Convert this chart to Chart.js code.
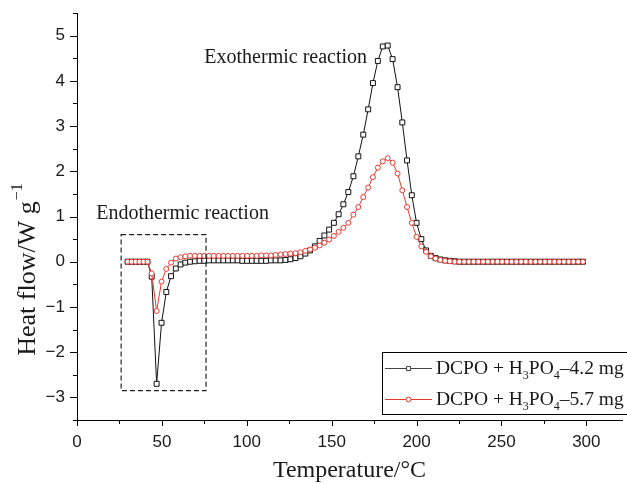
<!DOCTYPE html>
<html><head><meta charset="utf-8">
<script src="https://cdn.jsdelivr.net/npm/chart.js@4"></script>
<style>html,body{margin:0;padding:0;background:#fff}#wrap{width:627px;height:484px;position:relative}</style>
</head><body><div id="wrap"><canvas id="c" width="627" height="484"></canvas></div>
<script>
const temperatures = [29.8, 32.2, 34.5, 36.8, 39.2, 41.5, 44.0, 46.9, 49.8, 52.6,
 55.4, 58.2, 61.0, 63.8, 66.6, 69.4, 72.2, 75.0, 77.8, 80.6,
 83.4, 86.2, 89.0, 91.8, 94.6, 97.4, 100.2, 103.0, 105.8, 108.6,
 111.4, 114.2, 117.0, 119.9, 122.8, 125.7, 128.7, 131.6, 134.5, 137.3,
 140.1, 142.9, 145.7, 148.5, 151.3, 154.1, 156.9, 159.8, 162.8, 165.7,
 168.6, 171.5, 174.3, 177.2, 180.1, 183.0, 185.9, 188.8, 191.6, 194.4,
 197.2, 200.0, 202.8, 205.6, 208.4, 211.2, 214.0, 216.8, 219.6, 222.4,
 225.2, 228.0, 230.8, 233.6, 236.4, 239.2, 242.0, 244.8, 247.6, 250.4,
 253.2, 256.0, 258.8, 261.6, 264.4, 267.2, 270.0, 272.8, 275.6, 278.4,
 281.2, 284.0, 286.8, 289.6, 292.4, 295.2, 298.0];
const heatFlow42 = [0, 0, 0, 0, 0, 0, -0.33, -2.70, -1.35, -0.67,
 -0.32, -0.15, -0.06, -0.02, 0.00, 0.01, 0.02, 0.02, 0.03, 0.03,
 0.03, 0.03, 0.03, 0.03, 0.03, 0.02, 0.02, 0.02, 0.02, 0.02,
 0.02, 0.03, 0.03, 0.03, 0.04, 0.055, 0.08, 0.12, 0.18, 0.25,
 0.34, 0.46, 0.58, 0.71, 0.86, 1.05, 1.27, 1.54, 1.89, 2.33,
 2.81, 3.37, 3.95, 4.44, 4.76, 4.78, 4.48, 3.86, 3.08, 2.24,
 1.47, 0.86, 0.50, 0.25, 0.13, 0.08, 0.05, 0.03, 0.02, 0.01,
 0, 0, 0, 0, 0, 0, 0, 0, 0, 0,
 0, 0, 0, 0, 0, 0, 0, 0, 0, 0,
 0, 0, 0, 0, 0, 0, 0];
const heatFlow57 = [0, 0, 0, 0, 0, 0, -0.26, -1.09, -0.44, -0.16,
 -0.02, 0.07, 0.10, 0.12, 0.13, 0.13, 0.13, 0.13, 0.13, 0.13,
 0.13, 0.13, 0.13, 0.13, 0.13, 0.13, 0.13, 0.13, 0.13, 0.14,
 0.14, 0.14, 0.15, 0.16, 0.17, 0.18, 0.19, 0.21, 0.24, 0.27,
 0.31, 0.36, 0.42, 0.49, 0.57, 0.66, 0.75, 0.86, 1.04, 1.21,
 1.43, 1.64, 1.87, 2.08, 2.22, 2.29, 2.19, 1.95, 1.58, 1.21,
 0.86, 0.55, 0.34, 0.22, 0.12, 0.07, 0.04, 0.02, 0.01, 0,
 0, 0, 0, 0, 0, 0, 0, 0, 0, 0,
 0, 0, 0, 0, 0, 0, 0, 0, 0, 0,
 0, 0, 0, 0, 0, 0, 0];
const seriesMass = ['4.2 mg', '5.7 mg'];
const xTicks = [0, 50, 100, 150, 200, 250, 300];
const yTicks = [-3, -2, -1, 0, 1, 2, 3, 4, 5];
const xRange = [0, 321];
const yRange = [-3.5, 5.5];
const endoBox = [26, 76, -2.85, 0.6];   // x1, x2, y1, y2 in data units
const annotations = [
  {text: 'Exothermic reaction', x: 75, y: 4.5},
  {text: 'Endothermic reaction', x: 11.3, y: 1.07}
];

const BLACK = '#111';
const RED = '#e8392f';

const pts = (ys) => temperatures.map((t, i) => ({x: t, y: ys[i]}));

const decor = {
  id: 'decor',
  afterDraw(chart) {
    const ctx = chart.ctx, xs = chart.scales.x, ys = chart.scales.y, ca = chart.chartArea;
    ctx.save();
    // tick marks (major + minor)
    ctx.strokeStyle = '#000'; ctx.lineWidth = 1;
    ctx.beginPath();
    for (let v = xRange[0]; v <= xRange[1]; v += 25) {
      const px = Math.round(xs.getPixelForValue(v)) + 0.5;
      const len = (v % 50 === 0) ? 6 : 4;
      ctx.moveTo(px, ca.bottom); ctx.lineTo(px, ca.bottom + len);
    }
    for (let v = yRange[0]; v <= yRange[1] + 1e-9; v += 0.5) {
      const py = Math.round(ys.getPixelForValue(v)) + 0.5;
      const len = (Math.abs(v - Math.round(v)) < 1e-9) ? 7 : 4;
      ctx.moveTo(ca.left, py); ctx.lineTo(ca.left - len, py);
    }
    ctx.stroke();

    // dashed box
    ctx.setLineDash([5, 3]);
    ctx.strokeStyle = '#222'; ctx.lineWidth = 1.2;
    const bx1 = xs.getPixelForValue(endoBox[0]), bx2 = xs.getPixelForValue(endoBox[1]);
    const by1 = ys.getPixelForValue(endoBox[3]), by2 = ys.getPixelForValue(endoBox[2]);
    ctx.strokeRect(bx1, by1, bx2 - bx1, by2 - by1);
    ctx.setLineDash([]);

    // annotations
    ctx.fillStyle = '#1a1a1a';
    ctx.font = '20px "Liberation Serif"';
    ctx.textAlign = 'left'; ctx.textBaseline = 'middle';
    annotations.forEach(a => ctx.fillText(a.text, xs.getPixelForValue(a.x), ys.getPixelForValue(a.y)));

    // x title
    ctx.font = '24px "Liberation Serif"';
    ctx.textAlign = 'center'; ctx.textBaseline = 'middle';
    ctx.fillText('Temperature/°C', (ca.left + ca.right) / 2, 471);

    // y title with superscript
    ctx.save();
    ctx.translate(27, 270);
    ctx.rotate(-Math.PI / 2);
    ctx.font = '26px "Liberation Serif"';
    const main = 'Heat flow/W g';
    const wMain = ctx.measureText(main).width;
    ctx.font = '16px "Liberation Serif"';
    const sup = '\u22121';
    const wSup = ctx.measureText(sup).width;
    const start = -(wMain + wSup) / 2;
    ctx.textAlign = 'left'; ctx.textBaseline = 'alphabetic';
    ctx.font = '26px "Liberation Serif"';
    ctx.fillText(main, start, 8);
    ctx.font = '16px "Liberation Serif"';
    ctx.fillText(sup, start + wMain + 1, -5);
    ctx.restore();

    // legend
    const lx = 382, ly = 352, lw = 250, lh = 62;
    ctx.fillStyle = '#fff';
    ctx.fillRect(lx, ly, lw, lh);
    ctx.strokeStyle = '#000'; ctx.lineWidth = 1;
    ctx.strokeRect(lx + 0.5, ly + 0.5, lw, lh);
    const rows = [
      {y: 368, color: '#444', mark: 'rect', mass: seriesMass[0]},
      {y: 399, color: RED, mark: 'circle', mass: seriesMass[1]}
    ];
    rows.forEach(r => {
      ctx.strokeStyle = r.color; ctx.lineWidth = 1;
      ctx.beginPath(); ctx.moveTo(385, r.y + 0.5); ctx.lineTo(432, r.y + 0.5); ctx.stroke();
      ctx.fillStyle = '#fff';
      ctx.beginPath();
      if (r.mark === 'rect') { ctx.rect(406.5, r.y - 1.5, 4, 4); }
      else { ctx.arc(408.5, r.y + 0.5, 2.4, 0, Math.PI * 2); }
      ctx.fill(); ctx.stroke();
      ctx.fillStyle = '#1a1a1a';
      ctx.textAlign = 'left'; ctx.textBaseline = 'alphabetic';
      let x = 436; const base = r.y + 6;
      const big = '19.5px "Liberation Serif"', small = '12px "Liberation Serif"';
      const parts = [['DCPO + H', big, 0], ['3', small, 5], ['PO', big, 0], ['4', small, 5], ['\u2013' + r.mass, big, 0]];
      parts.forEach(p => { ctx.font = p[1]; ctx.fillText(p[0], x, base + p[2]); x += ctx.measureText(p[0]).width; });
    });
    ctx.restore();
  }
};

new Chart(document.getElementById('c'), {
  type: 'scatter',
  data: {
    datasets: [
      {label: 'DCPO + H3PO4–' + seriesMass[0], data: pts(heatFlow42), showLine: true, order: 1,
       borderColor: BLACK, borderWidth: 1, pointStyle: 'rect', pointRadius: 3.5,
       pointBackgroundColor: '#fff', pointBorderColor: BLACK, pointBorderWidth: 1},
      {label: 'DCPO + H3PO4–' + seriesMass[1], data: pts(heatFlow57), showLine: true, order: 0,
       borderColor: RED, borderWidth: 1, pointStyle: 'circle', pointRadius: 2.5,
       pointBackgroundColor: '#fff', pointBorderColor: RED, pointBorderWidth: 1}
    ]
  },
  options: {
    responsive: false, animation: false, devicePixelRatio: 1,
    layout: {padding: {top: 13, right: 0, left: 0, bottom: 0}},
    plugins: {legend: {display: false}, tooltip: {enabled: false}},
    scales: {
      x: {type: 'linear', min: xRange[0], max: xRange[1],
        border: {display: true, color: '#000', width: 1},
        grid: {display: false, drawTicks: false},
        afterBuildTicks(s) { s.ticks = xTicks.map(v => ({value: v})); },
        ticks: {padding: 12, color: '#1a1a1a', autoSkip: false, maxRotation: 0,
          font: {family: 'Liberation Sans', size: 17}},
        afterFit(s) { s.height = 64; s.paddingLeft = 0; s.paddingRight = 0; }},
      y: {type: 'linear', min: yRange[0], max: yRange[1],
        border: {display: true, color: '#000', width: 1},
        grid: {display: false, drawTicks: false},
        afterBuildTicks(s) { s.ticks = yTicks.map(v => ({value: v})); },
        ticks: {padding: 12, color: '#1a1a1a', autoSkip: false,
          font: {family: 'Liberation Sans', size: 17},
          callback: v => v < 0 ? '\u2212' + Math.abs(v) : String(v)},
        afterFit(s) { s.width = 77; s.paddingTop = 0; s.paddingBottom = 0; }}
    }
  },
  plugins: [decor]
});
</script></body></html>
